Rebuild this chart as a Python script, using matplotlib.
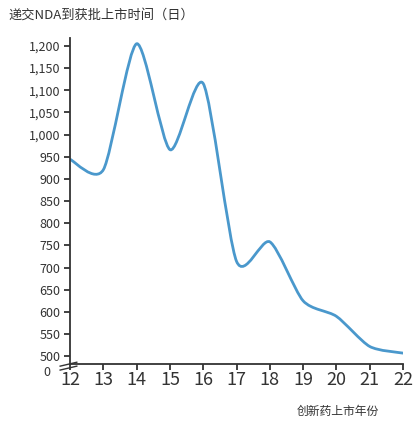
import numpy as np
import matplotlib
matplotlib.use('Agg')
import matplotlib.pyplot as plt
from matplotlib.path import Path
from matplotlib.patches import PathPatch
from matplotlib.ticker import FuncFormatter

plt.rcParams['font.family'] = ['Noto Sans CJK SC', 'DejaVu Sans']

# data
years = [12, 13, 14, 15, 16, 17, 18, 19, 20, 21, 22]
days = [944, 921, 1205, 966, 1115, 714, 758, 625, 590, 522, 507]
yticks = list(range(500, 1201, 50))

title = '递交NDA到获批上市时间（日）'
xlabel = '创新药上市年份'
line_color = '#4a98cc'

fig = plt.figure(figsize=(4.15, 4.22), dpi=100)
ax = fig.add_axes([0.169, 0.137, 0.802, 0.773])

# smooth curve like excel's smoothed line (bezier through each point)
x = np.array(years, dtype=float)
y = np.array(days, dtype=float)
n = len(x)
k = 1 / 8
verts = [(x[0], y[0])]
codes = [Path.MOVETO]
for i in range(n - 1):
    x0, y0 = (x[i - 1], y[i - 1]) if i > 0 else (x[i], y[i])
    x3, y3 = (x[i + 2], y[i + 2]) if i + 2 < n else (x[i + 1], y[i + 1])
    c1 = (x[i] + (x[i + 1] - x0) * k, y[i] + (y[i + 1] - y0) * k)
    c2 = (x[i + 1] - (x3 - x[i]) * k, y[i + 1] - (y3 - y[i]) * k)
    verts += [c1, c2, (x[i + 1], y[i + 1])]
    codes += [Path.CURVE4] * 3
ax.add_patch(PathPatch(Path(verts, codes), facecolor='none',
                       edgecolor=line_color, lw=2.0, capstyle='round'))

ax.set_xlim(12, 22)
ax.set_ylim(482, 1218)
ax.set_xticks(years)
ax.set_yticks(yticks)
ax.yaxis.set_major_formatter(FuncFormatter(lambda v, p: f'{int(v):,}'))

for s in ['top', 'right']:
    ax.spines[s].set_visible(False)
for s in ['left', 'bottom']:
    ax.spines[s].set_color('#333333')
    ax.spines[s].set_linewidth(1.3)

ax.tick_params(axis='y', direction='out', length=4, width=1.3, color='#333333',
               labelsize=9, labelcolor='#333333', pad=3)
ax.tick_params(axis='x', direction='out', length=4, width=1.3, color='#333333',
               labelsize=13, labelcolor='#333333', pad=1)

# broken axis: the "0" label and the break marks
ax.text(-0.06, -0.027, '0', transform=ax.transAxes, ha='right', va='center',
        fontsize=9, color='#333333')
for dy in (0.0, -0.012):
    ax.plot([-0.03, 0.02], [-0.006 + dy, 0.006 + dy], transform=ax.transAxes,
            color='#333333', lw=1.0, clip_on=False)

fig.text(0.02, 0.965, title, ha='left', va='center', fontsize=9.5, color='#333333')
fig.text(0.715, 0.025, xlabel, ha='left', va='center', fontsize=8.5, color='#333333')

fig.savefig('out.png', dpi=100, facecolor='white')
